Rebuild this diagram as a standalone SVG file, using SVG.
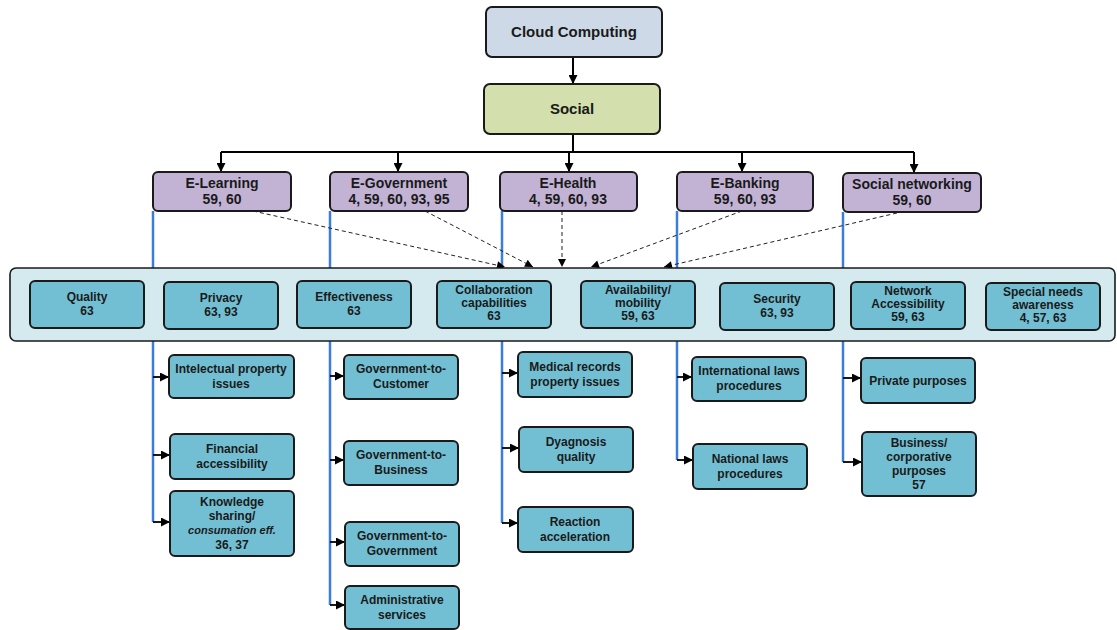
<svg xmlns="http://www.w3.org/2000/svg" width="1117" height="630" viewBox="0 0 1117 630">
  <defs>
    <marker id="arr" viewBox="0 0 10 10" refX="10" refY="5" markerWidth="10" markerHeight="9" markerUnits="userSpaceOnUse" orient="auto">
      <path d="M0,0 L10,5 L0,10 z" fill="#000"/>
    </marker>
    <marker id="arrSmall" viewBox="0 0 10 10" refX="10" refY="5" markerWidth="9" markerHeight="8" markerUnits="userSpaceOnUse" orient="auto">
      <path d="M0,0 L10,5 L0,10 z" fill="#000"/>
    </marker>
    <marker id="arrSide" viewBox="0 0 10 10" refX="10" refY="5" markerWidth="11" markerHeight="9" markerUnits="userSpaceOnUse" orient="auto">
      <path d="M0,0 L10,5 L0,10 z" fill="#000"/>
    </marker>
    <style>
      .t { font-family: "Liberation Sans", Arial, sans-serif; font-weight: bold; fill: #1a1a1a; text-anchor: middle; }
      .top { font-size: 15px; }
      .cat { font-size: 14px; }
      .in { font-size: 12px; }
      .sub { font-size: 12px; }
      .it { font-style: italic; font-size: 11px; }
      .box { stroke: #1a1a1a; stroke-width: 2; }
      .cloud { fill: #cdd9e6; }
      .social { fill: #d3dfac; }
      .purple { fill: #c2b3d5; }
      .teal { fill: #72bfd3; }
      .panel { fill: #d4eaef; stroke: #1a1a1a; stroke-width: 1.6; }
      .tree { fill: none; stroke: #000; stroke-width: 2; }
      .blue { fill: none; stroke: #3b7ddd; stroke-width: 2.5; }
      .dash { fill: none; stroke: #222; stroke-width: 1; stroke-dasharray: 4 3; }
      .hook { fill: none; stroke: #000; stroke-width: 1.8; }
    </style>
  </defs>

  <!-- vertical branch lines (drawn first so the panel covers them) -->
  <g id="branches">
    <path class="blue" d="M153,211 V522"/>
    <path class="blue" d="M330,211 V605"/>
    <path class="blue" d="M502,211 V523"/>
    <path class="blue" d="M677,211 V460"/>
    <path class="blue" d="M843,212 V462"/>
  </g>

  <!-- connectors -->
  <g id="connectors">
    <path class="tree" d="M573,57 V84" marker-end="url(#arr)"/>
    <path class="tree" d="M573,134 V152"/>
    <path class="tree" d="M221,152 H914"/>
    <path class="tree" d="M221,152 V172" marker-end="url(#arr)"/>
    <path class="tree" d="M398,152 V172" marker-end="url(#arr)"/>
    <path class="tree" d="M569,152 V172" marker-end="url(#arr)"/>
    <path class="tree" d="M742,152 V172" marker-end="url(#arr)"/>
    <path class="tree" d="M914,152 V173" marker-end="url(#arr)"/>

    <path class="dash" d="M253,211 L505,267" marker-end="url(#arrSmall)"/>
    <path class="dash" d="M425,211 L533,267" marker-end="url(#arrSmall)"/>
    <path class="dash" d="M562,211 L562,267" marker-end="url(#arrSmall)"/>
    <path class="dash" d="M742,211 L591,267" marker-end="url(#arrSmall)"/>
    <path class="dash" d="M897,213 L664,267" marker-end="url(#arrSmall)"/>

    <!-- E-Learning sub-items -->
    <path class="hook" d="M153,377 H169" marker-end="url(#arrSide)"/>
    <path class="hook" d="M153,455 H170" marker-end="url(#arrSide)"/>
    <path class="hook" d="M153,522 H170" marker-end="url(#arrSide)"/>
    <!-- E-Government sub-items -->
    <path class="hook" d="M330,376 H344" marker-end="url(#arrSide)"/>
    <path class="hook" d="M330,460 H344" marker-end="url(#arrSide)"/>
    <path class="hook" d="M330,542 H345" marker-end="url(#arrSide)"/>
    <path class="hook" d="M330,605 H345" marker-end="url(#arrSide)"/>
    <!-- E-Health sub-items -->
    <path class="hook" d="M502,373 H518" marker-end="url(#arrSide)"/>
    <path class="hook" d="M502,448 H519" marker-end="url(#arrSide)"/>
    <path class="hook" d="M502,523 H518" marker-end="url(#arrSide)"/>
    <!-- E-Banking sub-items -->
    <path class="hook" d="M677,377 H692" marker-end="url(#arrSide)"/>
    <path class="hook" d="M677,460 H693" marker-end="url(#arrSide)"/>
    <!-- Social networking sub-items -->
    <path class="hook" d="M843,378 H861" marker-end="url(#arrSide)"/>
    <path class="hook" d="M843,462 H862" marker-end="url(#arrSide)"/>
  </g>

  <!-- top levels -->
  <g id="cloud-computing">
    <rect class="box cloud" x="486" y="7" width="176" height="50" rx="6"/>
    <text class="t top" x="574" y="37">Cloud Computing</text>
  </g>
  <g id="social">
    <rect class="box social" x="484" y="84" width="176" height="50" rx="6"/>
    <text class="t top" x="572" y="114">Social</text>
  </g>

  <!-- application areas -->
  <g id="e-learning">
    <rect class="box purple" x="153" y="172" width="138" height="39" rx="5"/>
    <text class="t cat" x="222" y="188">E-Learning<tspan x="222" dy="16">59, 60</tspan></text>
  </g>
  <g id="e-government">
    <rect class="box purple" x="330" y="172" width="138" height="39" rx="5"/>
    <text class="t cat" x="399" y="188">E-Government<tspan x="399" dy="16">4, 59, 60, 93, 95</tspan></text>
  </g>
  <g id="e-health">
    <rect class="box purple" x="500" y="172" width="137" height="39" rx="5"/>
    <text class="t cat" x="568" y="188">E-Health<tspan x="568" dy="16">4, 59, 60, 93</tspan></text>
  </g>
  <g id="e-banking">
    <rect class="box purple" x="677" y="172" width="136" height="39" rx="5"/>
    <text class="t cat" x="745" y="188">E-Banking<tspan x="745" dy="16">59, 60, 93</tspan></text>
  </g>
  <g id="social-networking">
    <rect class="box purple" x="843" y="173" width="138" height="39" rx="5"/>
    <text class="t cat" x="912" y="189">Social networking<tspan x="912" dy="16">59, 60</tspan></text>
  </g>

  <!-- shared concerns panel -->
  <g id="concerns-panel">
    <rect class="panel" x="10" y="268" width="1105" height="73" rx="6"/>
  </g>
  <g id="quality">
    <rect class="box teal" x="30" y="281" width="114" height="47" rx="5"/>
    <text class="t in" x="87" y="301">Quality<tspan x="87" dy="14">63</tspan></text>
  </g>
  <g id="privacy">
    <rect class="box teal" x="164" y="282" width="114" height="47" rx="5"/>
    <text class="t in" x="221" y="302">Privacy<tspan x="221" dy="14">63, 93</tspan></text>
  </g>
  <g id="effectiveness">
    <rect class="box teal" x="297" y="281" width="114" height="47" rx="5"/>
    <text class="t in" x="354" y="301">Effectiveness<tspan x="354" dy="14">63</tspan></text>
  </g>
  <g id="collaboration">
    <rect class="box teal" x="437" y="281" width="114" height="47" rx="5"/>
    <text class="t in" x="494" y="294">Collaboration<tspan x="494" dy="13">capabilities</tspan><tspan x="494" dy="13">63</tspan></text>
  </g>
  <g id="availability">
    <rect class="box teal" x="581" y="281" width="114" height="47" rx="5"/>
    <text class="t in" x="638" y="294">Availability/<tspan x="638" dy="13">mobility</tspan><tspan x="638" dy="13">59, 63</tspan></text>
  </g>
  <g id="security">
    <rect class="box teal" x="720" y="283" width="114" height="47" rx="5"/>
    <text class="t in" x="777" y="303">Security<tspan x="777" dy="14">63, 93</tspan></text>
  </g>
  <g id="network-accessibility">
    <rect class="box teal" x="851" y="282" width="114" height="47" rx="5"/>
    <text class="t in" x="908" y="295">Network<tspan x="908" dy="13">Accessibility</tspan><tspan x="908" dy="13">59, 63</tspan></text>
  </g>
  <g id="special-needs">
    <rect class="box teal" x="986" y="283" width="114" height="47" rx="5"/>
    <text class="t in" x="1043" y="296">Special needs<tspan x="1043" dy="13">awareness</tspan><tspan x="1043" dy="13">4, 57, 63</tspan></text>
  </g>

  <!-- E-Learning details -->
  <g id="intellectual-property">
    <rect class="box teal" x="169" y="355" width="125" height="43" rx="5"/>
    <text class="t sub" x="231" y="373">Intelectual property<tspan x="231" dy="15">issues</tspan></text>
  </g>
  <g id="financial-accessibility">
    <rect class="box teal" x="170" y="434" width="124" height="45" rx="5"/>
    <text class="t sub" x="232" y="453">Financial<tspan x="232" dy="15">accessibility</tspan></text>
  </g>
  <g id="knowledge-sharing">
    <rect class="box teal" x="170" y="491" width="124" height="65" rx="5"/>
    <text class="t sub" x="232" y="506">Knowledge<tspan x="232" dy="14">sharing/</tspan><tspan class="it" x="232" dy="14">consumation eff.</tspan><tspan x="232" dy="15">36, 37</tspan></text>
  </g>

  <!-- E-Government details -->
  <g id="g2c">
    <rect class="box teal" x="344" y="355" width="114" height="44" rx="5"/>
    <text class="t sub" x="401" y="373">Government-to-<tspan x="401" dy="15">Customer</tspan></text>
  </g>
  <g id="g2b">
    <rect class="box teal" x="344" y="441" width="114" height="44" rx="5"/>
    <text class="t sub" x="401" y="459">Government-to-<tspan x="401" dy="15">Business</tspan></text>
  </g>
  <g id="g2g">
    <rect class="box teal" x="345" y="522" width="114" height="44" rx="5"/>
    <text class="t sub" x="402" y="540">Government-to-<tspan x="402" dy="15">Government</tspan></text>
  </g>
  <g id="administrative-services">
    <rect class="box teal" x="345" y="586" width="114" height="43" rx="5"/>
    <text class="t sub" x="402" y="604">Administrative<tspan x="402" dy="15">services</tspan></text>
  </g>

  <!-- E-Health details -->
  <g id="medical-records">
    <rect class="box teal" x="518" y="352" width="114" height="45" rx="5"/>
    <text class="t sub" x="575" y="371">Medical records<tspan x="575" dy="15">property issues</tspan></text>
  </g>
  <g id="diagnosis-quality">
    <rect class="box teal" x="519" y="427" width="114" height="45" rx="5"/>
    <text class="t sub" x="576" y="446">Dyagnosis<tspan x="576" dy="15">quality</tspan></text>
  </g>
  <g id="reaction-acceleration">
    <rect class="box teal" x="518" y="507" width="115" height="45" rx="5"/>
    <text class="t sub" x="575" y="526">Reaction<tspan x="575" dy="15">acceleration</tspan></text>
  </g>

  <!-- E-Banking details -->
  <g id="international-laws">
    <rect class="box teal" x="692" y="357" width="114" height="44" rx="5"/>
    <text class="t sub" x="749" y="375">International laws<tspan x="749" dy="15">procedures</tspan></text>
  </g>
  <g id="national-laws">
    <rect class="box teal" x="693" y="444" width="114" height="45" rx="5"/>
    <text class="t sub" x="750" y="463">National laws<tspan x="750" dy="15">procedures</tspan></text>
  </g>

  <!-- Social networking details -->
  <g id="private-purposes">
    <rect class="box teal" x="861" y="358" width="114" height="45" rx="5"/>
    <text class="t sub" x="918" y="385">Private purposes</text>
  </g>
  <g id="business-purposes">
    <rect class="box teal" x="862" y="432" width="114" height="64" rx="5"/>
    <text class="t sub" x="919" y="447">Business/<tspan x="919" dy="14">corporative</tspan><tspan x="919" dy="14">purposes</tspan><tspan x="919" dy="14">57</tspan></text>
  </g>
</svg>
